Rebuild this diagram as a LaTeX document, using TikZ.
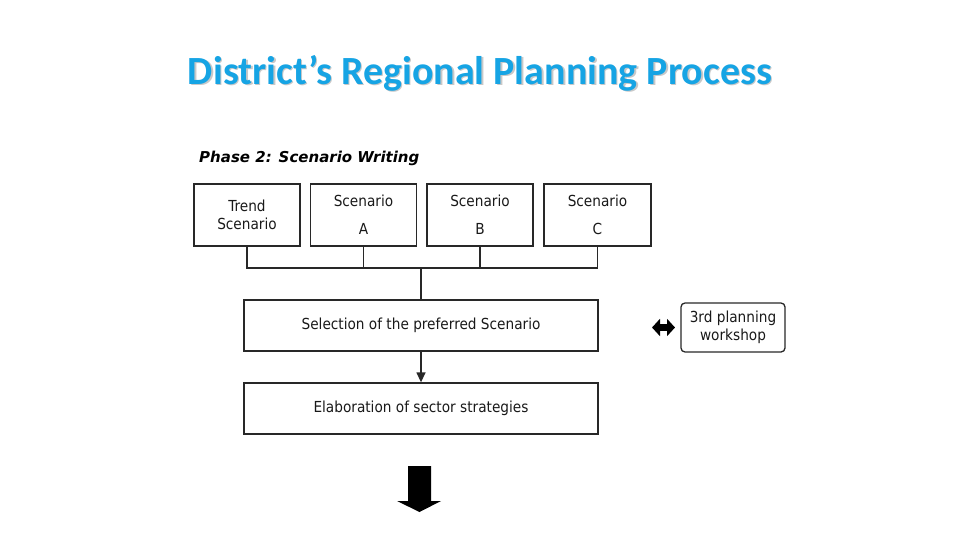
\documentclass[tikz,border=0pt]{standalone}
\usepackage{fontspec}
\setmainfont{DejaVu Sans}
\newfontfamily\titlefont{Carlito}
\newfontfamily\boxfont{DejaVu Sans Condensed}
\newfontfamily\phasefont{DejaVu Sans}
\usetikzlibrary{arrows.meta}
\definecolor{titleblue}{RGB}{22,164,228}
\definecolor{shadowgray}{RGB}{200,200,200}
\definecolor{linegray}{RGB}{40,40,40}
\tikzset{
  boxstyle/.style={draw=linegray, line width=1.3pt, rectangle, inner sep=0pt,
    align=center, font=\boxfont\fontsize{15.2}{18}\selectfont, text=black!90},
  wirestyle/.style={draw=linegray, line width=1.3pt},
}
\begin{document}
\begin{tikzpicture}[x=1pt,y=-1pt]
\useasboundingbox (0,0) rectangle (960,540);
% title
\node[text=shadowgray, font=\titlefont\bfseries\fontsize{40}{46}\selectfont] at (481.5,74.5) {District’s Regional Planning Process};
\node (title) [text=titleblue, font=\titlefont\bfseries\fontsize{40}{46}\selectfont] at (480,73) {District’s Regional Planning Process};
% phase label
\node (phase) [anchor=west, font=\phasefont\bfseries\itshape\fontsize{15}{18}\selectfont, inner sep=0pt] at (199,158) {Phase 2: Scenario Writing};
% scenario boxes
\node (trend) [boxstyle, minimum width=106pt, minimum height=62pt] at (247,215) {Trend\\Scenario};
\node (scA) [boxstyle, minimum width=106pt, minimum height=62pt] at (363.5,215) {Scenario\\[10pt]A};
\node (scB) [boxstyle, minimum width=106pt, minimum height=62pt] at (480,215) {Scenario\\[10pt]B};
\node (scC) [boxstyle, minimum width=107pt, minimum height=62pt] at (597.5,215) {Scenario\\[10pt]C};
% selection and elaboration
\node (sel) [boxstyle, minimum width=354pt, minimum height=51pt] at (421,325.5) {Selection of the preferred Scenario};
\node (elab) [boxstyle, minimum width=354pt, minimum height=51pt] at (421,408.5) {Elaboration of sector strategies};
% workshop
\node (work) [boxstyle, rounded corners=4pt, minimum width=104pt, minimum height=49pt] at (733,327.5) {3rd planning\\workshop};
% bus
\coordinate (bus) at (421,268);
\draw[wirestyle] (trend.south) -- (trend.south |- bus) -- (scC.south |- bus) -- (scC.south);
\draw[wirestyle] (scA.south) -- (scA.south |- bus);
\draw[wirestyle] (scB.south) -- (scB.south |- bus);
\draw[wirestyle] (bus) -- (sel.north);
\draw[wirestyle, -{Triangle[width=9pt,length=10pt]}] (sel.south) -- (elab.north);
% double arrow
\coordinate (dal) at (652,327.5);
\coordinate (dar) at (675,327.5);
\draw[line width=7pt, black, {Triangle[width=17pt,length=8pt]}-{Triangle[width=17pt,length=8pt]}] (dal) -- (dar);
% big down arrow
\fill[black] (408,466) -- (431,466) -- (431,501) -- (441,501) -- (419.5,512) -- (397,501) -- (408,501) -- cycle;
\end{tikzpicture}
\end{document}
